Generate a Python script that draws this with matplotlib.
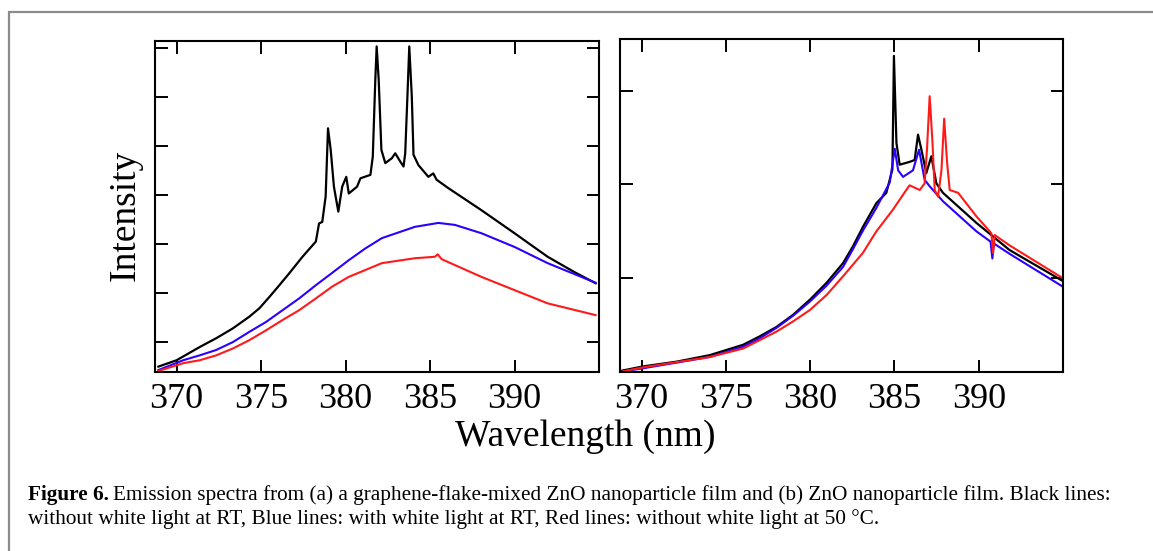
import numpy as np
import matplotlib.pyplot as plt
from matplotlib.patches import Rectangle

# (a) 石墨烯 + ZnO 薄膜
wl_a_black = [368.92, 370.0, 371.37, 372.35, 373.33, 374.31, 374.9, 375.49, 376.08, 376.66,
              377.45, 378.24, 378.43, 378.62, 378.82, 378.96, 379.12, 379.31, 379.57, 379.80,
              380.04, 380.19, 380.68, 380.88, 381.47, 381.61, 381.76, 381.84, 381.96, 382.12,
              382.35, 382.74, 382.94, 383.24, 383.43, 383.53, 383.66, 383.77, 383.92, 384.02,
              384.31, 384.90, 385.19, 385.39, 386.08, 388.04, 390.0, 391.96, 393.53, 394.80]
int_a_black = [0.50, 0.63, 0.90, 1.08, 1.28, 1.52, 1.69, 1.92, 2.16, 2.40,
               2.74, 3.05, 3.42, 3.45, 3.97, 5.36, 4.92, 4.17, 3.66, 4.17,
               4.37, 4.03, 4.17, 4.34, 4.41, 4.78, 6.35, 7.03, 6.35, 4.92,
               4.65, 4.75, 4.85, 4.68, 4.58, 4.85, 6.01, 7.03, 6.01, 4.82,
               4.61, 4.37, 4.44, 4.31, 4.14, 3.69, 3.22, 2.74, 2.43, 2.20]

wl_a_blue = [368.92, 370.39, 371.37, 372.35, 373.33, 374.31, 375.29, 376.27, 377.25, 378.24,
             379.2, 380.19, 381.17, 382.15, 384.1, 385.49, 386.47, 388.04, 390.0, 391.96,
             394.80]
int_a_blue = [0.43, 0.63, 0.73, 0.84, 1.00, 1.21, 1.41, 1.65, 1.89, 2.16,
              2.41, 2.67, 2.91, 3.12, 3.35, 3.43, 3.39, 3.22, 2.94, 2.61,
              2.21]

wl_a_red = [368.92, 370.39, 371.37, 372.35, 373.33, 374.31, 375.29, 376.27, 377.25, 378.24,
            379.2, 380.19, 381.17, 382.15, 384.1, 385.29, 385.45, 385.69, 388.04, 390.0,
            391.96, 394.80]
int_a_red = [0.41, 0.57, 0.63, 0.73, 0.87, 1.04, 1.24, 1.45, 1.65, 1.89,
             2.13, 2.33, 2.47, 2.61, 2.71, 2.74, 2.79, 2.69, 2.33, 2.06,
             1.79, 1.55]

# (b) ZnO 薄膜
wl_b_black = [368.71, 370.1, 372.07, 374.05, 376.02, 377.01, 378.0, 378.99, 379.98, 380.97,
              381.95, 382.54, 383.14, 383.93, 384.52, 384.88, 384.97, 385.12, 385.31, 385.90,
              386.20, 386.40, 386.60, 386.89, 387.19, 387.49, 387.88, 389.86, 391.83, 394.99]
int_b_black = [0.01, 0.06, 0.11, 0.18, 0.29, 0.38, 0.48, 0.61, 0.77, 0.95,
               1.16, 1.34, 1.55, 1.80, 1.91, 2.16, 3.37, 2.44, 2.21, 2.24,
               2.26, 2.53, 2.37, 2.12, 2.30, 2.01, 1.91, 1.59, 1.30, 0.97]

wl_b_blue = [368.71, 370.1, 374.05, 376.02, 377.01, 378.0, 378.99, 379.98, 380.97, 381.95,
             382.54, 383.14, 383.93, 384.72, 385.02, 385.22, 385.51, 386.10, 386.46, 386.79,
             387.09, 387.88, 389.86, 390.70, 390.81, 390.90, 391.83, 394.99]
int_b_blue = [0.0, 0.04, 0.16, 0.27, 0.36, 0.47, 0.60, 0.75, 0.92, 1.12,
              1.31, 1.51, 1.75, 2.02, 2.38, 2.15, 2.08, 2.15, 2.37, 2.05,
              1.98, 1.82, 1.50, 1.39, 1.21, 1.37, 1.26, 0.91]

wl_b_red = [368.71, 370.1, 374.05, 376.02, 378.0, 378.99, 379.98, 380.97, 381.95, 383.13,
            383.93, 384.91, 385.7, 385.9, 386.5, 386.79, 386.93, 387.09, 387.25, 387.39,
            387.59, 387.79, 387.95, 388.13, 388.28, 388.78, 389.86, 390.75, 390.85, 390.95,
            391.83, 394.99]
int_b_red = [0.0, 0.05, 0.16, 0.25, 0.43, 0.54, 0.66, 0.82, 1.02, 1.27,
             1.50, 1.73, 1.94, 1.99, 1.94, 2.01, 2.37, 2.94, 2.47, 1.94,
             1.87, 2.15, 2.70, 2.22, 1.94, 1.91, 1.66, 1.48, 1.27, 1.46,
             1.35, 1.00]

xticks = [370, 375, 380, 385, 390]
yticks_a = [1, 2, 3, 4, 5, 6, 7]
yticks_b = [0, 1, 2, 3]

W, H = 1153, 551
serif = ['Liberation Serif', 'DejaVu Serif']
plt.rcParams['font.family'] = serif

fig = plt.figure(figsize=(W / 100, H / 100), dpi=100)

def px_axes(l, t, r, b):
    return fig.add_axes([l / W, 1 - b / H, (r - l) / W, (b - t) / H])

ax1 = px_axes(155, 41, 599, 372)
ax2 = px_axes(620, 39, 1063, 372)

ax1.plot(wl_a_black, int_a_black, color='black', lw=1.6)
ax1.plot(wl_a_blue, int_a_blue, color='#2b00ff', lw=1.5)
ax1.plot(wl_a_red, int_a_red, color='#ff1a1a', lw=1.5)
ax1.set_ylim(0.39, 7.14)
ax1.set_yticks(yticks_a)

ax2.plot(wl_b_black, int_b_black, color='black', lw=1.6)
ax2.plot(wl_b_blue, int_b_blue, color='#2b00ff', lw=1.5)
ax2.plot(wl_b_red, int_b_red, color='#ff1a1a', lw=1.5)
ax2.set_ylim(0, 3.55)
ax2.set_yticks(yticks_b)

for ax in (ax1, ax2):
    ax.set_xlim(368.72, 395.0)
    ax.set_xticks(xticks)
    ax.set_yticklabels([])
    ax.tick_params(direction='in', length=9, width=1.4, top=True, right=True,
                   labelsize=26, pad=8)
    for s in ax.spines.values():
        s.set_linewidth(1.5)

fig.text(125 / W, 1 - 215 / H, 'Intensity', rotation=90, fontsize=27,
         ha='center', va='center')
fig.text(585 / W, 1 - 437 / H, 'Wavelength (nm)', fontsize=27,
         ha='center', va='center')

# 外框
fig.patches.append(Rectangle((9 / W, -0.2), 2, 1.2 - 12 / H, transform=fig.transFigure,
                             fill=False, edgecolor='#8c8c8c', lw=1.6, clip_on=False))

# 图注
cap_fs = 15.3
r = fig.canvas.get_renderer()
t0 = fig.text(28 / W, 1 - 500 / H, 'Figure 6.', fontsize=cap_fs, fontweight='bold',
              va='baseline')
bb = t0.get_window_extent(r)
fig.text(bb.x1 / W + 4 / W, 1 - 500 / H,
         'Emission spectra from (a) a graphene-flake-mixed ZnO nanoparticle film and '
         '(b) ZnO nanoparticle film. Black lines:', fontsize=cap_fs, va='baseline')
fig.text(28 / W, 1 - 524 / H,
         'without white light at RT, Blue lines: with white light at RT, '
         'Red lines: without white light at 50 \u00b0C.', fontsize=cap_fs, va='baseline')

fig.savefig('out.png', dpi=100)
